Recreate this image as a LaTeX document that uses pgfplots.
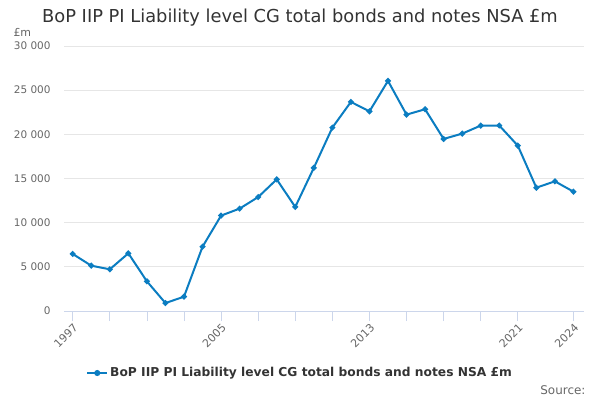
\documentclass[border=0pt]{standalone}
\usepackage{pgfplots}
\pgfplotsset{compat=1.18}
\usepackage{fontspec}
\setmainfont{DejaVu Sans}
\definecolor{linec}{HTML}{0B7DC1}
\definecolor{gridc}{HTML}{E6E6E6}
\definecolor{axisc}{HTML}{CCD6EB}
\definecolor{labc}{HTML}{666666}
\definecolor{titc}{HTML}{333333}
\begin{document}
\begin{tikzpicture}[x=1bp,y=1bp]
\useasboundingbox (0,0) rectangle (600,400);
\node[font=\fontsize{17.9}{21}\selectfont, text=titc] at (300,382) {BoP IIP PI Liability level CG total bonds and notes NSA £m};
\node[font=\fontsize{11}{13}\selectfont, text=labc, anchor=west] at (10,368) {£m};
\node[font=\fontsize{12}{14}\selectfont, text=labc, anchor=east] at (589,10) {Source:};
\begin{axis}[
  at={(64bp,89bp)}, anchor=south west,
  scale only axis, width=520bp, height=265bp,
  xmin=1996.53, xmax=2024.57, ymin=0, ymax=30000,
  axis x line*=bottom,
  axis y line*=left,
  x axis line style={draw=axisc, -},
  y axis line style={draw=none},
  xtick={1997,2005,2013,2021,2024},
  minor xtick={1999,2001,2003,2007,2009,2011,2015,2017,2019},
  x tick label style={rotate=45, anchor=north east, font=\fontsize{11}{13}\selectfont, text=labc, inner sep=1bp},
  xtick style={draw=axisc, line width=0.8bp},
  minor x tick style={draw=axisc, line width=0.8bp},
  tick align=outside, major tick length=10bp, minor tick length=10bp,
  ytick={0,5000,10000,15000,20000,25000,30000},
  ytick style={draw=none},
  ymajorgrids, grid style={draw=gridc, line width=0.8bp},
  y tick label style={font=\fontsize{10.5}{12}\selectfont, text=labc},
  yticklabel style={/pgf/number format/.cd, 1000 sep={\ }, assume math mode=true},
  xticklabel style={/pgf/number format/.cd, 1000 sep={}, assume math mode=true},
  scaled y ticks=false,
  legend style={at={(0.454,-0.234)}, anchor=center, draw=none, fill=none,
    font=\fontsize{12.3}{14}\selectfont\bfseries, text=titc, legend cell align=left},
  legend image code/.code={\draw[#1, line width=2bp] (0bp,0bp) -- (20bp,0bp); \fill[linec] (10bp,0bp) circle (2bp);},
  clip=false,
]
\addplot[color=linec, line width=2bp, mark=*, mark size=1.8bp, mark options={fill=linec, draw=linec}] coordinates {
(1997,6460) (1998,5130) (1999,4720) (2000,6530) (2001,3360) (2002,900) (2003,1620)
(2004,7280) (2005,10800) (2006,11590) (2007,12900) (2008,14900) (2009,11780) (2010,16200)
(2011,20760) (2012,23670) (2013,22600) (2014,26050) (2015,22230) (2016,22840) (2017,19480)
(2018,20080) (2019,20990) (2020,21000) (2021,18720) (2022,13960) (2023,14680) (2024,13510)
};
\addlegendentry{BoP IIP PI Liability level CG total bonds and notes NSA £m}
\end{axis}
\end{tikzpicture}
\end{document}
